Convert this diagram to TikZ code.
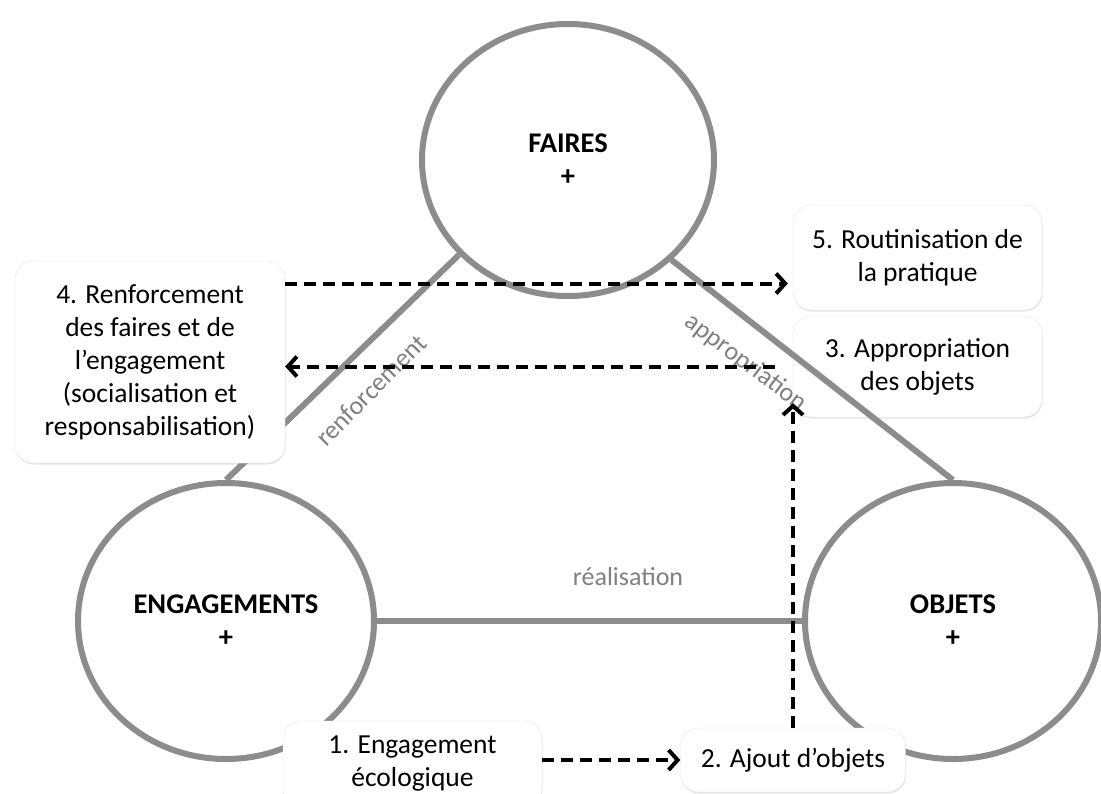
\documentclass[tikz,border=0pt]{standalone}
\usepackage{fontspec}
\setmainfont{Carlito}
\usetikzlibrary{arrows.meta, positioning, shapes.geometric, shadows}

\newcommand{\diagfont}{\fontsize{27.5pt}{33pt}\selectfont}
\newcommand{\polefont}{\fontsize{28.5pt}{33pt}\selectfont\bfseries}
\newcommand{\linkfont}{\fontsize{26pt}{31pt}\selectfont}

\tikzset{
  pole/.style={ellipse, draw=black!45, line width=6pt, fill=white, minimum width=296pt, minimum height=276pt, align=center, font=\polefont},
  link/.style={draw=black!45, line width=6pt},
  linklabel/.style={text=black!50, font=\linkfont},
  stepbox/.style={rectangle, rounded corners=18pt, draw=black!10, fill=white, align=center, inner sep=2pt, drop shadow={opacity=0.2, shadow xshift=0.5pt, shadow yshift=-1.5pt}},
  flow/.style={-{Straight Barb[length=9pt,width=20pt]}, line width=4pt, dash pattern=on 12pt off 7pt}
}

\begin{document}
\begin{tikzpicture}[x=1pt, y=-1pt, font=\diagfont]
  \useasboundingbox (0,0) rectangle (1101,793);
  \clip (0,0) rectangle (1101,793);
  \fill[white] (0,0) rectangle (1101,793);

  % poles
  \node[pole, minimum width=292pt, minimum height=272pt] (faires) at (568,160) {FAIRES\\+};
  \node[pole] (engag) at (226,621) {ENGAGEMENTS\\+};
  \node[pole] (objets) at (953,621) {OBJETS\\+};

  \node[stepbox, minimum width=249pt, minimum height=101pt] (approp) at (917.5,366.5) {3. Appropriation\\des objets};

  % relations
  \draw[link] (engag.north) -- (faires.221);
  \draw[link] (faires.-44) -- (objets.north);
  \draw[link] (engag.east) -- (objets.west);
  \node[linklabel, rotate=45] at (371,390) {renforcement};
  \node[linklabel, rotate=-37] at (746,363) {appropriation};
  \node[linklabel] at (628,577) {réalisation};

  % stages
  \node[stepbox, minimum width=270pt, minimum height=202pt] (renfo) at (150,362) {4. Renforcement\\des faires et de\\l’engagement\\(socialisation et\\responsabilisation)};
  \node[stepbox, minimum width=249pt, minimum height=105pt] (routine) at (917.5,257.5) {5. Routinisation de\\la pratique};
  \node[stepbox, minimum width=259pt, minimum height=86pt] (ecolo) at (412.5,764) {1. Engagement\\écologique};
  \node[stepbox, minimum width=225pt, minimum height=64pt] (ajout) at (793,760) {2. Ajout d’objets};

  % parcours
  \path (ajout.north |- approp.south) ++(0,-14) coordinate (up);
  \path (routine.west) ++(-5,26) coordinate (r5);
  \path (approp.west) ++(-18,0) coordinate (a3);
  \draw[flow] (ecolo.east |- ajout.west) -- (ajout.west);
  \draw[flow] (ajout.north) -- (up);
  \draw[flow] (a3) -- (renfo.east |- a3);
  \draw[flow] (renfo.east |- r5) -- (r5);
\end{tikzpicture}
\end{document}
